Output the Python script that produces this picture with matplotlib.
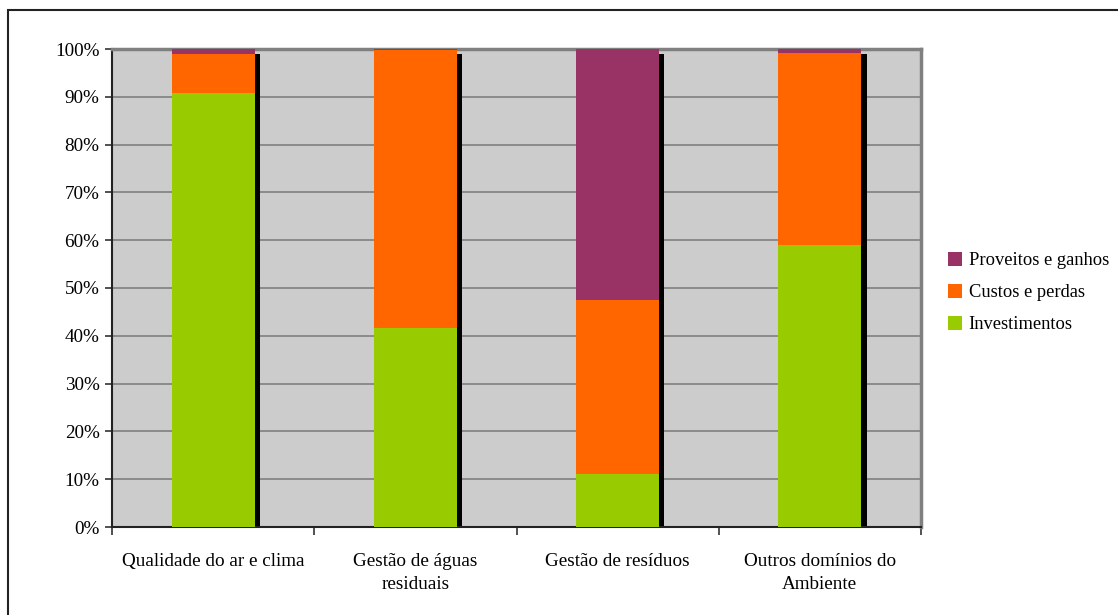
import numpy as np
import matplotlib.pyplot as plt
from matplotlib.patches import Rectangle

plt.rcParams['font.family'] = ['Liberation Serif', 'DejaVu Serif']

categorias = ['Qualidade do ar e clima', 'Gestão de águas\nresiduais',
              'Gestão de resíduos', 'Outros domínios do\nAmbiente']
investimentos = [90.8, 41.6, 11.1, 59.0]
custos = [8.1, 58.2, 36.4, 40.2]
proveitos = [1.1, 0.2, 52.5, 0.8]

cor_inv = '#99cc00'
cor_cust = '#ff6600'
cor_prov = '#993366'

fig = plt.figure(figsize=(11.18, 6.15), dpi=100)
ax = fig.add_axes([112/1118, 1 - 527/615, (921-112)/1118, (527-49)/615])

x = np.arange(len(categorias))
w = 0.41
inv = np.array(investimentos)
cus = np.array(custos)
pro = np.array(proveitos)

# sombra preta por trás de cada barra
dx, dy = 0.026, 1.1
ax.bar(x + dx, 100 - dy, w, bottom=0, color='black', zorder=2)

ax.bar(x, inv, w, color=cor_inv, zorder=3, label='Investimentos')
ax.bar(x, cus, w, bottom=inv, color=cor_cust, zorder=3, label='Custos e perdas')
ax.bar(x, pro, w, bottom=inv + cus, color=cor_prov, zorder=3, label='Proveitos e ganhos')

fs = 13.8
ax.set_facecolor('#cccccc')
ax.set_xlim(-0.5, len(categorias) - 0.5)
ax.set_ylim(0, 100)
ax.set_yticks(np.arange(0, 101, 10))
ax.set_yticklabels([f'{v}%' for v in range(0, 101, 10)], fontsize=fs)
ax.yaxis.grid(True, color='#808080', linewidth=1.2, zorder=1)
ax.set_axisbelow(True)

ax.set_xticks(np.arange(-0.5, len(categorias), 1))
ax.set_xticklabels([])
ax.set_xticks(x, minor=True)
ax.set_xticklabels(categorias, minor=True, fontsize=fs, linespacing=1.45)
ax.tick_params(axis='x', which='minor', length=0, pad=19)
ax.tick_params(axis='x', which='major', length=6, width=1.2, color='#333333')
ax.tick_params(axis='y', length=5, width=1.2, color='#333333', pad=4)

for s in ['left', 'bottom']:
    ax.spines[s].set_color('#222222')
    ax.spines[s].set_linewidth(1.5)
for s in ['top', 'right']:
    ax.spines[s].set_color('#808080')
    ax.spines[s].set_linewidth(2.5)

handles, labels = ax.get_legend_handles_labels()
fig.legend(handles[::-1], labels[::-1], loc='upper left',
           bbox_to_anchor=(939/1118, 1 - 243/615), frameon=False,
           fontsize=13.3, handlelength=0.75, handleheight=0.75,
           handletextpad=0.35, labelspacing=0.8, borderpad=0)

# moldura exterior
fig.patches.append(Rectangle((8/1118, -0.1), 1.2, 1.1 - 10/615,
                             transform=fig.transFigure, fill=False,
                             edgecolor='#222222', linewidth=1.5))

fig.savefig('out.png', dpi=100)
